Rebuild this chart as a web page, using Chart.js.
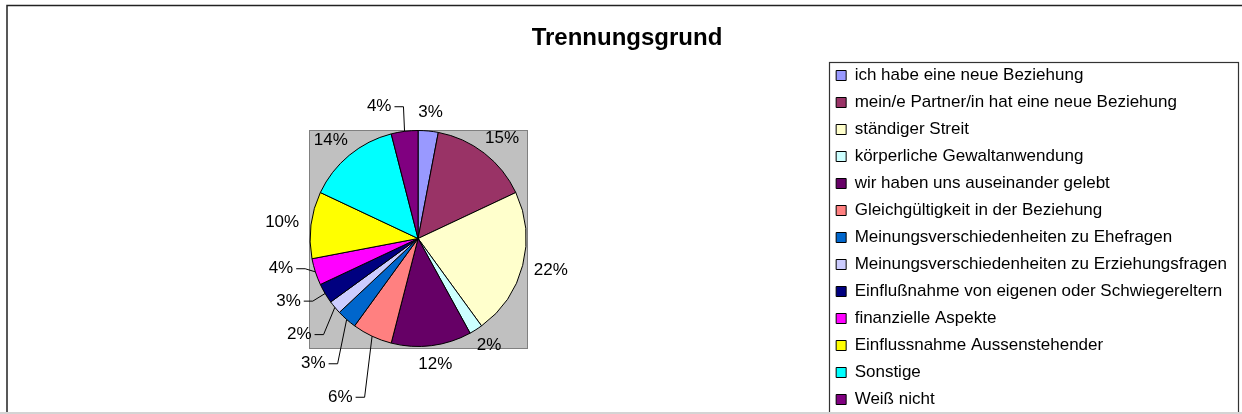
<!DOCTYPE html>
<html>
<head>
<meta charset="utf-8">
<script src="https://cdn.jsdelivr.net/npm/chart.js@4.4.1/dist/chart.umd.min.js"></script>
<style>
  html, body { margin: 0; padding: 0; background: #fff; overflow: hidden; }
  #wrap { width: 1242px; height: 414px; overflow: hidden; }
</style>
</head>
<body>
<div id="wrap"><canvas id="chart-trennungsgrund" width="1242" height="420"></canvas></div>
<script>
const reasons = [
    'ich habe eine neue Beziehung',
    'mein/e Partner/in hat eine neue Beziehung',
    'ständiger Streit',
    'körperliche Gewaltanwendung',
    'wir haben uns auseinander gelebt',
    'Gleichgültigkeit in der Beziehung',
    'Meinungsverschiedenheiten zu Ehefragen',
    'Meinungsverschiedenheiten zu Erziehungsfragen',
    'Einflußnahme von eigenen oder Schwiegereltern',
    'finanzielle Aspekte',
    'Einflussnahme Aussenstehender',
    'Sonstige',
    'Weiß nicht'
];
const shares = [3, 15, 22, 2, 12, 6, 3, 2, 3, 4, 10, 14, 4];
const sliceColors = [
    '#9999FF', '#993366', '#FFFFCC', '#CCFFFF', '#660066', '#FF8080', '#0066CC',
    '#CCCCFF', '#000080', '#FF00FF', '#FFFF00', '#00FFFF', '#800080'
];

const FONT = '"Liberation Sans", Arial, sans-serif';
const PIE_RADIUS = 108;
const TITLE_NUDGE = 3.5;
const VISIBLE_H = 414; // the canvas runs a little past the window, like the cropped original

// labels pushed away from the pie with a leader line, [dx, dy] in radius units from the centre
const leaderSpots = {
    5: [-0.72, 1.47],
    6: [-0.97, 1.16],
    7: [-1.10, 0.89],
    8: [-1.20, 0.58],
    9: [-1.27, 0.28],
    12: [-0.36, -1.22]
};

const frame = {
    id: 'frame',
    beforeDraw(chart) {
        const ctx = chart.ctx;
        ctx.save();
        ctx.fillStyle = '#fff';
        ctx.fillRect(0, 0, chart.width, chart.height);
        ctx.strokeStyle = '#222';
        ctx.lineWidth = 1.5;
        ctx.strokeRect(7, 5.5, chart.width + 20, chart.height + 20);
        ctx.restore();
    },
    afterDraw(chart) {
        const lg = chart.legend;
        const ctx = chart.ctx;
        const left = Math.round(lg.left) + 3.5;
        ctx.save();
        ctx.strokeStyle = '#333';
        ctx.lineWidth = 1.2;
        ctx.strokeRect(left, 62.5, 1238.5 - left, 400);
        ctx.fillStyle = '#d4d4d4';
        ctx.fillRect(0, VISIBLE_H - 2, chart.width, 2);
        ctx.restore();
    }
};

const plotArea = {
    id: 'plotArea',
    beforeDatasetsDraw(chart) {
        const arc = chart.getDatasetMeta(0).data[0];
        if (!arc) return;
        const r = arc.outerRadius;
        const ctx = chart.ctx;
        const left = Math.round(arc.x - r - 1) + 0.5;
        const top = Math.round(arc.y - r - 1) + 0.5;
        const side = Math.round(2 * r + 2);
        ctx.save();
        ctx.fillStyle = '#C0C0C0';
        ctx.fillRect(left, top, side, side);
        ctx.strokeStyle = '#808080';
        ctx.lineWidth = 1;
        ctx.strokeRect(left, top, side, side);
        ctx.restore();
    }
};

const pctLabels = {
    id: 'pctLabels',
    afterDatasetsDraw(chart) {
        const ctx = chart.ctx;
        const values = chart.data.datasets[0].data;
        const total = values.reduce((a, b) => a + b, 0);
        ctx.save();
        ctx.font = '17px ' + FONT;
        ctx.fillStyle = '#000';
        ctx.strokeStyle = '#000';
        ctx.lineWidth = 1;
        ctx.textAlign = 'center';
        ctx.textBaseline = 'middle';
        chart.getDatasetMeta(0).data.forEach((arc, i) => {
            const text = Math.round(values[i] / total * 100) + '%';
            const w = ctx.measureText(text).width;
            const mid = (arc.startAngle + arc.endAngle) / 2;
            const dx = Math.cos(mid);
            const dy = Math.sin(mid);
            const r = arc.outerRadius;
            let lx, ly;
            if (leaderSpots[i]) {
                lx = arc.x + leaderSpots[i][0] * r;
                ly = arc.y + leaderSpots[i][1] * r;
                const right = lx + w / 2;
                ctx.beginPath();
                ctx.moveTo(arc.x + dx * r, arc.y + dy * r);
                ctx.lineTo(right + 12, ly);
                ctx.lineTo(right + 3, ly);
                ctx.stroke();
            } else {
                lx = arc.x + dx * (r + 12) + dx * w / 2;
                ly = arc.y + dy * (r + 12) + dy * 7;
            }
            ctx.fillText(text, lx, ly);
        });
        ctx.restore();
    }
};

const titleShift = {
    id: 'titleShift',
    afterLayout(chart) {
        if (chart.titleBlock) {
            chart.titleBlock.left += TITLE_NUDGE;
            chart.titleBlock.right += TITLE_NUDGE;
        }
    }
};

new Chart(document.getElementById('chart-trennungsgrund'), {
    type: 'pie',
    data: {
        labels: reasons,
        datasets: [{
            data: shares,
            backgroundColor: sliceColors,
            borderColor: '#000',
            borderWidth: 1,
            radius: PIE_RADIUS
        }]
    },
    options: {
        responsive: false,
        animation: false,
        devicePixelRatio: 1,
        layout: { padding: { left: 10, right: 5, top: 0, bottom: 0 } },
        plugins: {
            title: {
                display: true,
                text: 'Trennungsgrund',
                color: '#000',
                font: { family: FONT, size: 24, weight: 'bold', lineHeight: 1 },
                padding: { top: 26.5, bottom: 6.5 }
            },
            legend: {
                position: 'right',
                align: 'start',
                fullSize: false,
                labels: {
                    color: '#000',
                    font: { family: FONT, size: 17 },
                    boxWidth: 10,
                    boxHeight: 10,
                    padding: 10
                }
            },
            tooltip: { enabled: false }
        }
    },
    plugins: [frame, plotArea, pctLabels, titleShift]
});
</script>
</body>
</html>
